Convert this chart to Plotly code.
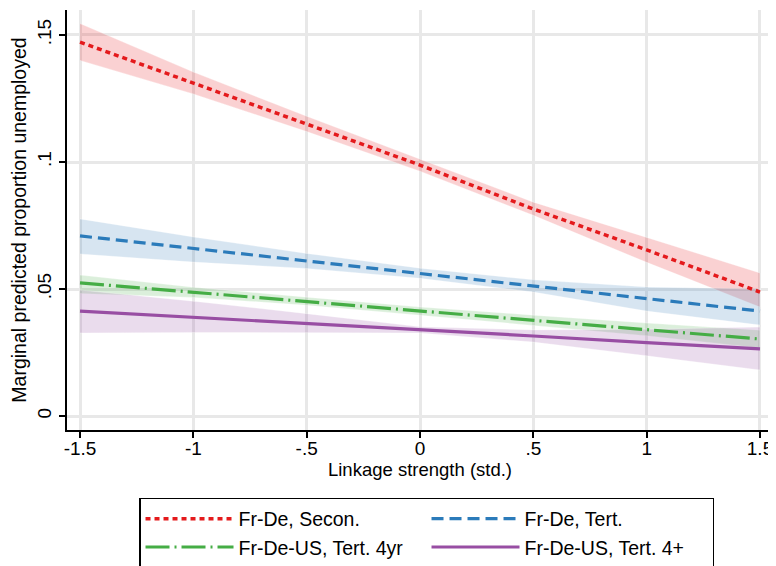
import plotly.graph_objects as go

# Data
x_vals = [-1.5, -1.0, -0.5, 0.0, 0.5, 1.0, 1.5]

names = ["Fr-De, Secon.", "Fr-De, Tert.", "Fr-De-US, Tert. 4yr", "Fr-De-US, Tert. 4+"]

red_mid = [0.1472, 0.1311, 0.1150, 0.0988, 0.0815, 0.0654, 0.0488]
red_lo = [0.1400, 0.1268, 0.1120, 0.0964, 0.0790, 0.0605, 0.0429]
red_hi = [0.1545, 0.1354, 0.1180, 0.1012, 0.0842, 0.0703, 0.0563]

blue_mid = [0.0709, 0.0660, 0.0611, 0.0562, 0.0512, 0.0462, 0.0413]
blue_lo = [0.0638, 0.0606, 0.0581, 0.0542, 0.0488, 0.0413, 0.0358]
blue_hi = [0.0776, 0.0705, 0.0640, 0.0582, 0.0536, 0.0508, 0.0500]

green_mid = [0.0524, 0.0487, 0.0450, 0.0413, 0.0377, 0.0340, 0.0303]
green_lo = [0.0482, 0.0467, 0.0436, 0.0397, 0.0357, 0.0316, 0.0268]
green_hi = [0.0555, 0.0507, 0.0468, 0.0429, 0.0397, 0.0366, 0.0338]

purple_mid = [0.0413, 0.0389, 0.0364, 0.0339, 0.0315, 0.0289, 0.0264]
purple_lo = [0.0327, 0.0329, 0.0329, 0.0327, 0.0291, 0.0237, 0.0181]
purple_hi = [0.0496, 0.0452, 0.0403, 0.0351, 0.0339, 0.0342, 0.0350]

x_ticks = [-1.5, -1, -0.5, 0, 0.5, 1, 1.5]
x_tick_labels = ["-1.5", "-1", "-.5", "0", ".5", "1", "1.5"]
y_ticks = [0, 0.05, 0.1, 0.15]
y_tick_labels = ["0", ".05", ".1", ".15"]

series = [
    (names[0], red_mid, red_lo, red_hi, "#e41a1c", "rgba(228,26,28,0.2)", "5px,4px", 3.5),
    (names[1], blue_mid, blue_lo, blue_hi, "#2b7bba", "rgba(55,126,184,0.2)", "12px,6px", 3.2),
    (names[2], green_mid, green_lo, green_hi, "#45ad45", "rgba(77,175,74,0.2)", "24px,5px,2px,5px", 3.2),
    (names[3], purple_mid, purple_lo, purple_hi, "#984ea3", "rgba(152,78,163,0.2)", "solid", 3.2),
]

fig = go.Figure()

for name, mid, lo, hi, col, fcol, dash, lw in series:
    fig.add_trace(go.Scatter(
        x=x_vals + x_vals[::-1], y=hi + lo[::-1],
        fill="toself", fillcolor=fcol, mode="lines",
        line=dict(color="rgba(255,255,255,0.5)", width=0.6),
        showlegend=False, hoverinfo="skip"))

for name, mid, lo, hi, col, fcol, dash, lw in series:
    fig.add_trace(go.Scatter(
        x=x_vals, y=mid, mode="lines", name=name,
        line=dict(color=col, width=lw, dash=dash)))

font_family = "Liberation Sans, Arial, sans-serif"

fig.update_layout(
    width=768, height=558,
    margin=dict(l=59, r=3, t=2, b=136, autoexpand=False),
    paper_bgcolor="white", plot_bgcolor="white",
    font=dict(family=font_family, size=18.5, color="black"),
    xaxis=dict(
        range=[-1.5574, 1.5574], tickvals=x_ticks, ticktext=x_tick_labels,
        showgrid=True, gridcolor="#e8e8e8", gridwidth=3,
        showline=True, linecolor="black", linewidth=2,
        ticks="outside", ticklen=6, tickwidth=2, tickcolor="black",
        ticklabelstandoff=-6,
        zeroline=False, automargin=False,
        title=dict(text="Linkage strength (std.)", standoff=2,
                   font=dict(size=18.5)),
        tickfont=dict(size=19),
    ),
    yaxis=dict(
        range=[-0.00551, 0.15984], tickvals=y_ticks, ticktext=y_tick_labels,
        tickangle=-90,
        showgrid=True, gridcolor="#e8e8e8", gridwidth=3,
        showline=True, linecolor="black", linewidth=2,
        ticks="outside", ticklen=6, tickwidth=2, tickcolor="black",
        zeroline=False, automargin=False,
        title=dict(text="Marginal predicted proportion unemployed", standoff=6,
                   font=dict(size=19.5)),
        tickfont=dict(size=19),
    ),
    legend=dict(
        orientation="h", x=0.102, xanchor="left", y=-0.1619, yanchor="top",
        bordercolor="black", borderwidth=1.5, bgcolor="white",
        entrywidth=183, entrywidthmode="pixels", itemwidth=88,
        font=dict(size=19.5), tracegroupgap=0,
    ),
)

fig.write_html("out.html")
